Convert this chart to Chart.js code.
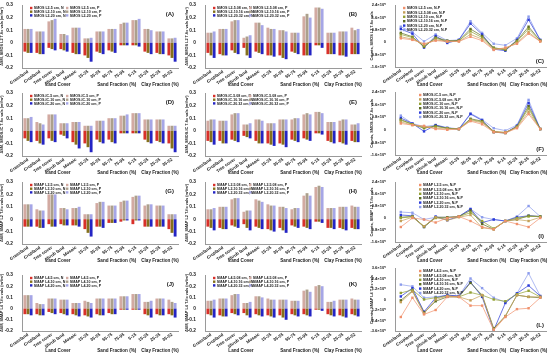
<!DOCTYPE html>
<html><head><meta charset="utf-8">
<script src="https://cdn.jsdelivr.net/npm/chart.js@4"></script>
<style>
html,body{margin:0;padding:0;background:#fff;width:550px;height:354px;overflow:hidden;position:relative}
canvas{position:absolute}
</style></head><body>
<script>
// ---------- DATA ----------
const categories = ['Grassland','Cropland','Tree cover','Shrub land','Mosaic','15-35','35-55','55-75','75-95','5-15','15-25','25-35','35-52'];
const groupTitles = ['Land Cover','Sand Fraction (%)','Clay Fraction (%)'];
const products = ['SMOS L2','SMOS-IC','SMAP L2','SMAP L4'];
const depthsA = ['5 cm','10 cm','20 cm'];
const depthsB = ['5.08 cm','10.16 cm','20.32 cm'];
const lineDepths = ['5 cm','5.08 cm','10 cm','10.16 cm','20 cm','20.32 cm'];
const barTicks = [-0.2,-0.1,0,0.1,0.2,0.3];
const lineTicks = [-1.6,-0.8,0,0.8,1.6,2.4];
const lineTicksL = [-3.6,-2.4,-1.2,0,1.2,2.4,3.6];

// bar panels: N (negative) and P (positive) per depth
const A_N = [[-0.07,-0.08,-0.04,-0.05,-0.08,-0.10,-0.07,-0.06,-0.02,-0.02,-0.07,-0.08,-0.10],
             [-0.08,-0.09,-0.05,-0.06,-0.09,-0.12,-0.08,-0.07,-0.02,-0.02,-0.08,-0.09,-0.12],
             [-0.08,-0.09,-0.06,-0.07,-0.09,-0.15,-0.09,-0.08,-0.02,-0.03,-0.09,-0.09,-0.15]];
const A_P = [[0.11,0.09,0.17,0.07,0.12,0.035,0.09,0.11,0.15,0.18,0.11,0.09,0.035],
             [0.11,0.09,0.18,0.07,0.12,0.035,0.09,0.11,0.16,0.18,0.11,0.09,0.035],
             [0.11,0.09,0.19,0.06,0.12,0.04,0.09,0.11,0.16,0.19,0.10,0.09,0.04]];
const B_N = [[-0.08,-0.09,-0.06,-0.04,-0.07,-0.10,-0.10,-0.07,-0.10,-0.02,-0.09,-0.10,-0.09],
             [-0.10,-0.10,-0.08,-0.10,-0.08,-0.10,-0.12,-0.08,-0.10,-0.02,-0.09,-0.10,-0.09],
             [-0.12,-0.10,-0.09,-0.12,-0.09,-0.11,-0.13,-0.09,-0.10,-0.04,-0.09,-0.11,-0.09]];
const B_P = [[0.08,0.11,0.17,0.04,0.16,0.12,0.10,0.08,0.21,0.28,0.08,0.09,0.12],
             [0.08,0.11,0.18,0.05,0.16,0.11,0.10,0.08,0.23,0.28,0.08,0.09,0.10],
             [0.09,0.11,0.18,0.06,0.14,0.11,0.09,0.08,0.20,0.27,0.08,0.09,0.11]];
const D_N = [[-0.06,-0.08,-0.06,-0.03,-0.09,-0.10,-0.07,-0.07,-0.02,-0.02,-0.07,-0.08,-0.10],
             [-0.08,-0.10,-0.08,-0.04,-0.11,-0.13,-0.09,-0.09,-0.02,-0.02,-0.09,-0.09,-0.14],
             [-0.09,-0.11,-0.09,-0.06,-0.14,-0.17,-0.10,-0.10,-0.02,-0.02,-0.10,-0.10,-0.17]];
const D_P = [[0.10,0.07,0.13,0.06,0.07,0.04,0.08,0.10,0.12,0.14,0.09,0.09,0.04],
             [0.10,0.06,0.13,0.06,0.07,0.04,0.08,0.10,0.12,0.14,0.09,0.09,0.04],
             [0.11,0.05,0.13,0.06,0.07,0.04,0.08,0.10,0.13,0.14,0.09,0.09,0.04]];
const E_N = [[-0.08,-0.08,-0.07,-0.04,-0.08,-0.10,-0.10,-0.07,-0.06,-0.02,-0.08,-0.09,-0.08],
             [-0.09,-0.10,-0.08,-0.05,-0.10,-0.11,-0.11,-0.08,-0.07,-0.02,-0.09,-0.10,-0.09],
             [-0.11,-0.10,-0.09,-0.06,-0.10,-0.12,-0.13,-0.09,-0.08,-0.03,-0.10,-0.11,-0.09]];
const E_P = [[0.08,0.08,0.13,0.05,0.09,0.06,0.09,0.09,0.13,0.15,0.07,0.08,0.05],
             [0.09,0.08,0.14,0.05,0.09,0.06,0.09,0.10,0.14,0.15,0.07,0.09,0.05],
             [0.09,0.08,0.14,0.06,0.08,0.06,0.09,0.10,0.13,0.14,0.07,0.09,0.06]];
const G_N = [[-0.06,-0.06,-0.04,-0.04,-0.05,-0.08,-0.06,-0.03,-0.02,-0.04,-0.06,-0.06,-0.08],
             [-0.06,-0.07,-0.06,-0.05,-0.05,-0.11,-0.06,-0.03,-0.01,-0.01,-0.06,-0.06,-0.11],
             [-0.06,-0.07,-0.06,-0.05,-0.06,-0.14,-0.07,-0.03,-0.01,-0.01,-0.06,-0.06,-0.14]];
const G_P = [[0.12,0.08,0.20,0.09,0.09,0.04,0.13,0.11,0.14,0.18,0.11,0.11,0.04],
             [0.12,0.07,0.20,0.09,0.09,0.04,0.14,0.11,0.15,0.19,0.12,0.11,0.04],
             [0.12,0.07,0.20,0.08,0.10,0.04,0.14,0.11,0.15,0.19,0.12,0.11,0.04]];
const H_N = [[-0.06,-0.07,-0.05,-0.04,-0.06,-0.08,-0.07,-0.05,-0.06,-0.02,-0.07,-0.07,-0.07],
             [-0.07,-0.08,-0.06,-0.07,-0.07,-0.09,-0.09,-0.06,-0.07,-0.02,-0.07,-0.08,-0.08],
             [-0.09,-0.08,-0.07,-0.09,-0.08,-0.10,-0.11,-0.07,-0.08,-0.03,-0.08,-0.09,-0.08]];
const H_P = [[0.08,0.10,0.16,0.06,0.16,0.12,0.10,0.08,0.19,0.26,0.09,0.10,0.11],
             [0.08,0.10,0.17,0.07,0.15,0.11,0.10,0.09,0.21,0.27,0.09,0.10,0.10],
             [0.09,0.10,0.17,0.07,0.14,0.11,0.09,0.09,0.19,0.26,0.09,0.10,0.10]];
const J_N = [[-0.05,-0.05,-0.03,-0.04,-0.05,-0.06,-0.05,-0.04,-0.01,-0.01,-0.05,-0.05,-0.05],
             [-0.05,-0.06,-0.04,-0.05,-0.06,-0.07,-0.06,-0.05,-0.01,-0.01,-0.06,-0.06,-0.06],
             [-0.06,-0.06,-0.05,-0.06,-0.07,-0.08,-0.06,-0.05,-0.01,-0.01,-0.08,-0.06,-0.08]];
const J_P = [[0.12,0.05,0.09,0.08,0.05,0.07,0.09,0.09,0.11,0.13,0.06,0.09,0.08],
             [0.12,0.04,0.09,0.08,0.05,0.06,0.09,0.09,0.11,0.13,0.06,0.09,0.06],
             [0.12,0.04,0.09,0.08,0.05,0.05,0.09,0.09,0.11,0.13,0.07,0.09,0.05]];
const K_N = [[-0.05,-0.06,-0.04,-0.04,-0.05,-0.06,-0.06,-0.05,-0.05,-0.01,-0.05,-0.06,-0.05],
             [-0.06,-0.07,-0.05,-0.06,-0.06,-0.07,-0.08,-0.06,-0.06,-0.01,-0.06,-0.07,-0.06],
             [-0.08,-0.07,-0.06,-0.08,-0.07,-0.08,-0.10,-0.07,-0.07,-0.02,-0.07,-0.08,-0.07]];
const K_P = [[0.07,0.09,0.12,0.05,0.11,0.09,0.08,0.07,0.16,0.20,0.06,0.08,0.09],
             [0.07,0.09,0.13,0.05,0.11,0.08,0.08,0.07,0.17,0.21,0.06,0.08,0.08],
             [0.08,0.09,0.13,0.06,0.10,0.08,0.08,0.07,0.15,0.20,0.07,0.08,0.08]];

// line panels: counts N-P (x10^5), six depth series
const C_L = [[0.25,0.15,-0.1,0.1,0.05,0.05,0.35,0.1,-0.5,-0.35,-0.1,0.55,0.05],
             [0.35,0.2,-0.15,0.15,0.05,0.05,0.5,0.2,-0.45,-0.4,-0.05,0.65,0.05],
             [0.5,0.3,-0.25,0.25,0.05,0.1,0.7,0.3,-0.4,-0.45,0.05,0.85,0.1],
             [0.6,0.35,-0.3,0.3,0.1,0.1,0.85,0.4,-0.35,-0.5,0.1,1.0,0.1],
             [0.85,0.55,-0.35,0.4,-0.05,0.15,1.2,0.5,-0.45,-0.55,0.15,1.45,0.15],
             [1.0,0.65,0.05,0.5,0.1,0.15,1.35,0.6,-0.1,-0.2,0.25,1.65,0.15]];
const F_L = [[0.4,0.3,0.25,0.05,0.0,0.05,0.55,0.35,-0.15,-0.2,0.1,1.0,0.05],
             [0.5,0.3,0.2,0.1,0.05,0.05,0.6,0.45,-0.1,-0.15,0.15,1.15,0.05],
             [0.6,0.35,0.15,0.2,0.1,0.05,0.65,0.5,-0.15,-0.2,0.2,1.35,0.05],
             [0.65,0.35,0.1,0.25,0.1,0.05,0.7,0.55,-0.1,-0.2,0.2,1.5,0.05],
             [0.75,0.4,-0.1,0.3,0.1,0.05,1.0,0.6,-0.15,-0.2,0.25,1.7,0.05],
             [0.9,0.4,0.2,0.3,0.15,0.05,1.05,0.65,0.1,-0.05,0.3,1.9,0.05]];
const I_L = [[-0.6,0.0,-0.1,-0.3,0.0,0.1,-0.2,-0.6,-0.75,-0.2,-0.4,-0.6,0.0],
             [-0.2,0.05,-0.55,0.05,-0.15,0.05,0.2,-0.65,-0.75,-0.2,-0.1,-0.2,0.05],
             [0.0,0.1,-0.55,0.0,0.0,0.1,0.35,-0.2,-0.7,-0.2,0.0,0.1,0.1],
             [0.05,0.1,-0.6,0.05,0.05,0.1,0.5,-0.4,-0.75,-0.2,-0.1,0.15,0.1],
             [0.2,0.15,-0.6,0.1,-0.15,0.1,0.6,-0.3,-0.1,-0.2,0.05,0.15,0.1],
             [0.4,0.35,-0.1,0.05,0.05,0.1,0.6,0.05,-0.1,-0.2,0.1,0.8,0.1]];
const L_L = [[-2.0,0.2,-1.7,-1.2,0.3,0.3,-0.7,-0.7,-3.5,-2.0,-1.1,-1.0,0.2],
             [-0.3,0.9,-1.6,0.0,0.4,0.3,-0.1,0.5,-3.4,-1.9,0.5,0.3,0.3],
             [0.75,1.1,0.0,0.2,0.4,0.3,0.8,0.5,0.0,-0.2,0.6,1.0,0.3],
             [-0.1,1.0,-1.5,-0.2,0.3,0.3,1.9,0.5,-3.3,-1.9,0.5,0.3,0.2],
             [0.35,1.3,-1.4,0.2,0.5,0.4,2.0,0.3,-3.5,-0.4,0.7,1.6,0.4],
             [1.7,1.5,0.2,0.3,0.5,0.4,2.4,1.3,0.2,-0.3,0.7,3.0,0.4]];

// ---------- STYLE ----------
const FONT = '"Liberation Sans", Arial, sans-serif';
const colN = ['#d8302a','#84701c','#2424c4'];
const colP = ['#d2aaa2','#aca08c','#a6a6e6'];
const colL = ['#f0906c','#c4a058','#92a032','#5c6c22','#2a3ad8','#8c9cec'];

function gx(s, v){ const i=Math.floor(v), f=v-i; const a=s.getPixelForValue(i), b=s.getPixelForValue(i+1); return a+(b-a)*f; }

const deco = {
  id:'deco',
  afterDraw(chart, args, o){
    const ctx=chart.ctx, ca=chart.chartArea, xs=chart.scales.x;
    ctx.save();
    ctx.fillStyle='#222'; ctx.textBaseline='middle';
    // group titles
    ctx.font='bold 4.6px '+FONT; ctx.textAlign='center';
    [2.5,7.4,11.0].forEach((g,i)=>ctx.fillText(groupTitles[i], gx(xs,g), o.titleY));
    // legend
    ctx.font='bold 3.6px '+FONT; ctx.textAlign='left';
    chart.data.datasets.forEach((d,k)=>{
      let x,y;
      if(o.cols===2){ x=ca.left+o.lx+(k%2)*o.colW; y=ca.top+o.ly+Math.floor(k/2)*o.rowH; }
      else { x=ca.left+o.lx; y=ca.top+o.ly+k*o.rowH; }
      ctx.fillStyle = o.cols===2 ? d.backgroundColor : d.borderColor;
      ctx.fillRect(x, y-1.2, 2.4, 2.4);
      ctx.fillStyle='#222';
      ctx.fillText(d.label, x+3.8, y+0.2);
    });
    // panel label
    ctx.font='bold 6px '+FONT; ctx.textAlign='right';
    ctx.fillText(o.label, ca.right+o.px, o.pyBottom ? ca.bottom+o.py : ca.top+o.py);
    ctx.restore();
  }
};

function makeCanvas(p){
  const c=document.createElement('canvas');
  c.width=p.w; c.height=p.h; c.style.left=p.x+'px'; c.style.top=p.y+'px';
  c.style.width=p.w+'px'; c.style.height=p.h+'px';
  document.body.appendChild(c); return c;
}

function common(p, yTicks, fmt, ymin, ymax, ytitle){
  return {
    responsive:false, animation:false, devicePixelRatio:1,
    layout:{padding:{top:p.top,right:p.w-p.right,left:0,bottom:0}},
    plugins:{legend:{display:false}, tooltip:{enabled:false}, deco:p.deco},
    scales:{
      x:{stacked:true, offset:true, grid:{display:false, drawTicks:false}, border:{color:'#9a9a9a'},
         ticks:{autoSkip:false, maxRotation:35, minRotation:35, padding:1, color:'#222', font:{size:4.4, weight:'bold', family:FONT}},
         afterFit:s=>{s.height=p.h-p.bottom;}},
      y:{stacked:true, min:ymin, max:ymax, grid:{display:false}, border:{color:'#9a9a9a'},
         afterBuildTicks:s=>{s.ticks=yTicks.map(v=>({value:v}));},
         ticks:{padding:1, color:'#222', font:{size:p.tf||4.8, weight:'bold', family:FONT}, callback:fmt},
         title:{display:true, text:ytitle, color:'#222', padding:0, font:{size:3.8, weight:'bold', family:FONT}},
         afterFit:s=>{s.width=p.left;}}
    }
  };
}

function barPanel(p, prod, depths, N, P){
  const ds=[];
  for(let d=0; d<3; d++){
    ds.push({label:`${prod}-${depths[d]}, N`, data:N[d], backgroundColor:colN[d], stack:'s'+d});
    ds.push({label:`${prod}-${depths[d]}, P`, data:P[d], backgroundColor:colP[d], stack:'s'+d});
  }
  ds.forEach(d=>{d.categoryPercentage=0.78; d.barPercentage=0.92;});
  p.deco=Object.assign({cols:2, lx:8, ly:3, colW:36, rowH:3.7, titleY:p.h-3.5, px:-4, py:9}, p.deco||{});
  const opt=common(p, barTicks, v=>v===0?'0':v.toFixed(1), -0.2, 0.3, `ΔSM, ${prod} T-fix vals (m³/m³)`);
  new Chart(makeCanvas(p), {type:'bar', data:{labels:categories, datasets:ds}, options:opt, plugins:[deco]});
}

function linePanel(p, prod, S, ticks){
  const ds=S.map((arr,k)=>({label:`${prod}-${lineDepths[k]}, N-P`, data:arr, borderColor:colL[k], backgroundColor:colL[k],
      borderWidth:0.7, pointStyle:'rect', pointRadius:1.7, pointBorderWidth:0, tension:0}));
  p.deco=Object.assign({cols:1, lx:8, ly:3, rowH:4.4, titleY:p.h-3.5, px:-2, py:-6, pyBottom:true}, p.deco||{});
  const opt=common(p, ticks, v=>v===0?'0':v.toFixed(1)+'×10⁵', ticks[0], ticks[ticks.length-1], `Counts, ${prod} T-fix vals`);
  opt.scales.x.stacked=false; opt.scales.y.stacked=false;
  new Chart(makeCanvas(p), {type:'line', data:{labels:categories, datasets:ds}, options:opt, plugins:[deco]});
}

// ---------- PANELS ----------
barPanel({x:0,  y:0, w:185,h:88, top:5, bottom:68, left:22, right:178, deco:{label:'(A)'}}, products[0], depthsA, A_N, A_P);
barPanel({x:185,y:0, w:185,h:88, top:5, bottom:68, left:20, right:176, deco:{label:'(B)'}}, products[0], depthsB, B_N, B_P);
linePanel({x:370,y:0, w:180,h:88, top:5, bottom:67, left:25, right:176, tf:4, deco:{label:'(C)', lx:8}}, products[0], C_L, lineTicks);

barPanel({x:0,  y:88, w:185,h:88, top:5, bottom:68, left:22, right:178, deco:{label:'(D)'}}, products[1], depthsA, D_N, D_P);
barPanel({x:185,y:88, w:185,h:88, top:5, bottom:68, left:20, right:176, deco:{label:'(E)'}}, products[1], depthsB, E_N, E_P);
linePanel({x:370,y:88, w:180,h:88, top:4, bottom:67, left:25, right:176, tf:4, deco:{label:'(F)', lx:24}}, products[1], F_L, lineTicks);

barPanel({x:0,  y:176, w:185,h:88, top:6, bottom:68, left:22, right:178, deco:{label:'(G)'}}, products[2], depthsA, G_N, G_P);
barPanel({x:185,y:176, w:185,h:88, top:6, bottom:68, left:20, right:176, deco:{label:'(H)'}}, products[2], depthsB, H_N, H_P);
linePanel({x:370,y:176, w:180,h:88, top:6, bottom:66, left:25, right:176, tf:4, deco:{label:'(I)', lx:24}}, products[2], I_L, lineTicks);

barPanel({x:0,  y:264, w:185,h:90, top:11, bottom:67, left:22, right:178, deco:{label:'(J)'}}, products[3], depthsA, J_N, J_P);
barPanel({x:185,y:264, w:185,h:90, top:11, bottom:67, left:20, right:176, deco:{label:'(K)'}}, products[3], depthsB, K_N, K_P);
linePanel({x:370,y:264, w:180,h:90, top:3, bottom:67, left:25, right:176, tf:4, deco:{label:'(L)', lx:24}}, products[3], L_L, lineTicksL);
</script>
</body></html>
